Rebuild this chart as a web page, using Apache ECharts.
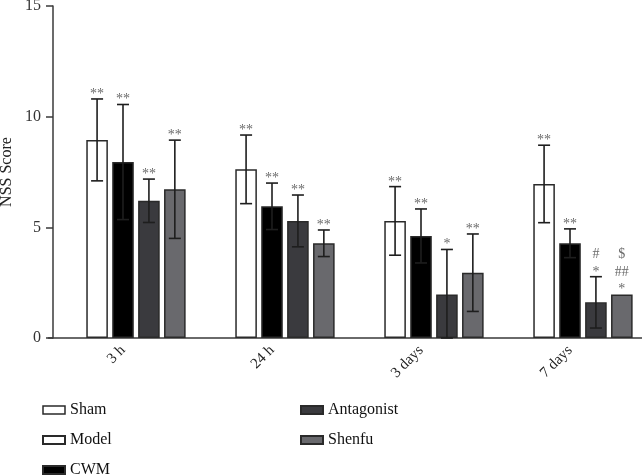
<!DOCTYPE html>
<html>
<head>
<meta charset="utf-8">
<script src="https://cdn.jsdelivr.net/npm/echarts@6/dist/echarts.min.js"></script>
<style>
html,body{margin:0;padding:0;background:#fff;}
#chart{width:642px;height:475px;}
</style>
</head>
<body>
<div id="chart"></div>
<script>
// ---- data ----
var categories = ['3 h', '24 h', '3 days', '7 days'];
var seriesNames = ['Sham', 'Model', 'CWM', 'Antagonist', 'Shenfu'];
var shamMean = [0, 0, 0, 0];
var modelMean = [8.95, 7.62, 5.29, 6.96];
var cwmMean = [7.95, 5.95, 4.61, 4.28];
var antagonistMean = [6.2, 5.29, 1.97, 1.61];
var shenfuMean = [6.72, 4.28, 2.95, 1.97];
var shamSD = [0, 0, 0, 0];
var modelSD = [1.85, 1.55, 1.55, 1.75];
var cwmSD = [2.6, 1.05, 1.22, 0.65];
var antagonistSD = [0.98, 1.17, 2.03, 1.16];
var shenfuSD = [2.22, 0.6, 1.75, 0];
var shamMarks = ['', '', '', ''];
var modelMarks = ['**', '**', '**', '**'];
var cwmMarks = ['**', '**', '**', '**'];
var antagonistMarks = ['**', '**', '*', '#\n*'];
var shenfuMarks = ['**', '**', '**', '$\n##\n*'];
var yTicks = [0, 5, 10, 15];

var means = [shamMean, modelMean, cwmMean, antagonistMean, shenfuMean];
var sds = [shamSD, modelSD, cwmSD, antagonistSD, shenfuSD];
var marks = [shamMarks, modelMarks, cwmMarks, antagonistMarks, shenfuMarks];

// ---- style ----
var FONT = 'Liberation Serif';
var fills = ['#ffffff', '#ffffff', '#000000', '#3a3a3e', '#69696d'];
var BAR_W = 21.6, GAP = 0.2;
var PITCH = BAR_W * (1 + GAP);
var AXIS_C = '#3a3a3a';
var BORDER_C = '#2a2a2a';

var series = [];
seriesNames.forEach(function (name, i) {
  series.push({
    name: name,
    type: 'bar',
    data: means[i],
    barWidth: BAR_W,
    barGap: (GAP * 100) + '%',
    itemStyle: { color: fills[i], borderColor: BORDER_C, borderWidth: name === 'Sham' ? 0 : 1.5 },
    emphasis: { disabled: true },
    z: 2
  });
});

seriesNames.forEach(function (name, i) {
  var data = means[i].map(function (m, k) {
    var sd = sds[i][k];
    return [k, Math.max(0, m - sd), m + sd, m, marks[i][k]];
  });
  series.push({
    type: 'custom',
    name: name + ' err',
    data: data,
    z: 5,
    silent: true,
    renderItem: function (params, api) {
      var k = api.value(0);
      var lo = api.value(1), hi = api.value(2), m = api.value(3);
      var mk = data[params.dataIndex][4];
      var cx = api.coord([k, 0])[0] + (i - 2) * PITCH;
      var yLo = api.coord([k, lo])[1];
      var yHi = api.coord([k, hi])[1];
      var yM = api.coord([k, m])[1];
      var children = [];
      var style = { stroke: '#1e1e1e', lineWidth: 1.6 };
      if (hi > m) {
        children.push({ type: 'line', shape: { x1: cx, y1: yLo, x2: cx, y2: yHi }, style: style });
        children.push({ type: 'line', shape: { x1: cx - 6, y1: yHi, x2: cx + 6, y2: yHi }, style: style });
        children.push({ type: 'line', shape: { x1: cx - 6, y1: yLo, x2: cx + 6, y2: yLo }, style: style });
      }
      if (mk) {
        var top = Math.min(yHi, yM);
        children.push({
          type: 'text',
          style: {
            text: mk, x: cx, y: top + 4,
            textAlign: 'center', textVerticalAlign: 'bottom',
            fill: '#6a6a6a', font: '14px "' + FONT + '"', lineHeight: 17.5
          }
        });
      }
      return { type: 'group', children: children };
    }
  });
});

var legendText = { fontFamily: FONT, fontSize: 16, color: '#111' };
var chart = echarts.init(document.getElementById('chart'), null, { renderer: 'canvas' });
chart.setOption({
  animation: false,
  backgroundColor: '#ffffff',
  grid: { left: 48.5, right: -2.5, top: 6, bottom: 137, containLabel: false, outerBoundsMode: 'none' },
  legend: [
    {
      data: [
        { name: 'Sham', itemStyle: { color: '#fff', borderColor: BORDER_C, borderWidth: 1.5 } },
        'Model', 'CWM'
      ],
      icon: 'rect',
      orient: 'vertical', left: 42, top: 402, height: 120, padding: 0,
      itemWidth: 22, itemHeight: 8, itemGap: 14,
      textStyle: legendText,
      selectedMode: false
    },
    {
      data: ['Antagonist', 'Shenfu'],
      icon: 'rect',
      orient: 'vertical', left: 300, top: 402, height: 120, padding: 0,
      itemWidth: 22, itemHeight: 8, itemGap: 14,
      textStyle: legendText,
      selectedMode: false
    }
  ],
  xAxis: {
    type: 'category',
    data: categories,
    axisLine: { lineStyle: { color: AXIS_C, width: 1.5 } },
    axisTick: { alignWithLabel: true, length: 7, lineStyle: { color: AXIS_C, width: 1.5 } },
    axisLabel: { rotate: 45, margin: 10, fontFamily: FONT, fontSize: 15, color: '#222' }
  },
  yAxis: {
    type: 'value',
    min: 0, max: 15, interval: 5,
    offset: -4.5,
    name: 'NSS Score',
    nameLocation: 'middle',
    nameGap: 38,
    nameMoveOverlap: false,
    nameTextStyle: { fontFamily: FONT, fontSize: 16, color: '#222' },
    axisLine: { show: true, lineStyle: { color: AXIS_C, width: 1.5 } },
    axisTick: { show: true, length: 7, lineStyle: { color: AXIS_C, width: 1.5 } },
    axisLabel: {
      margin: 12, fontFamily: FONT, fontSize: 16, color: '#333',
      formatter: function (v) { return yTicks.indexOf(v) >= 0 ? String(v) : ''; }
    },
    splitLine: { show: false }
  },
  series: series
});
</script>
</body>
</html>
